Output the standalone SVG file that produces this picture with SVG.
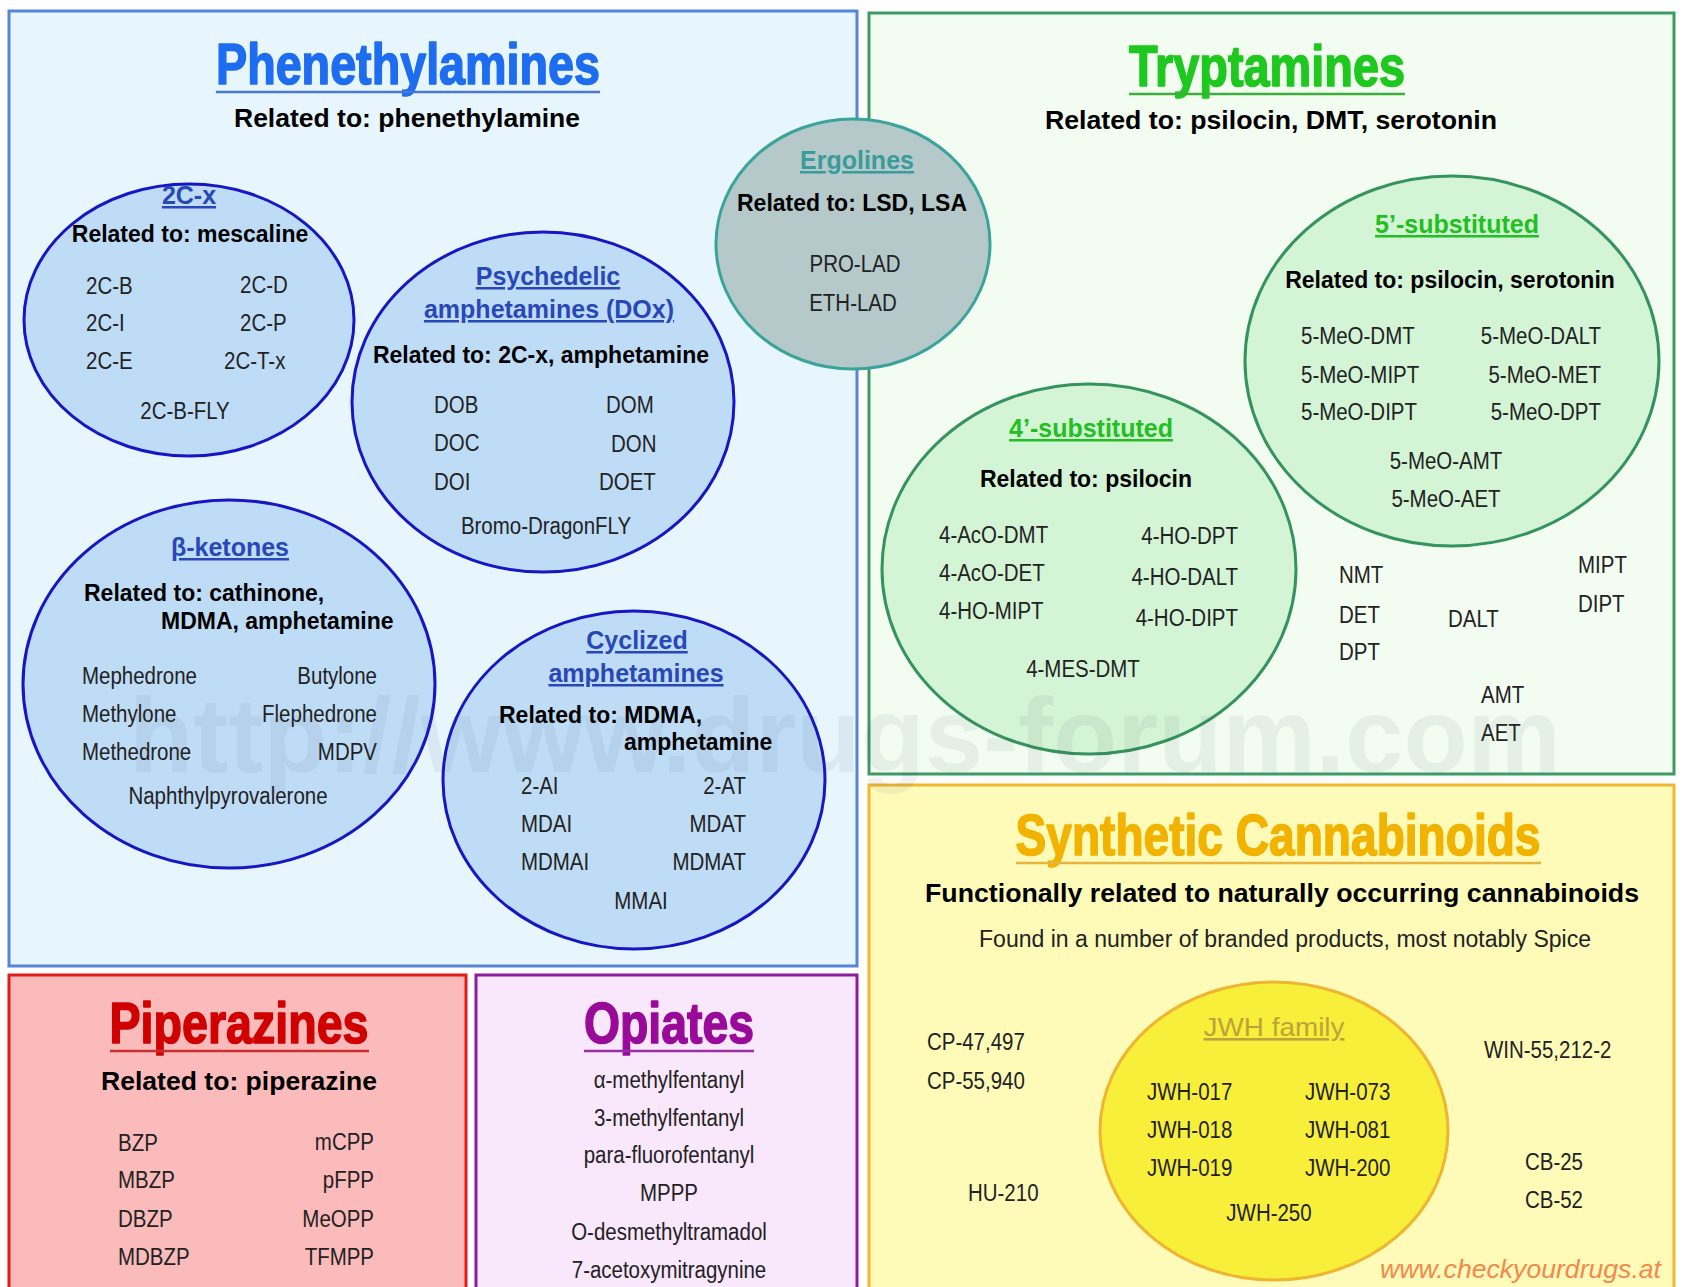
<svg xmlns="http://www.w3.org/2000/svg" width="1686" height="1287" viewBox="0 0 1686 1287">
<style>
text{font-family:'Liberation Sans',Arial,sans-serif}
.it{font-size:23px;fill:#222}
.m{text-anchor:middle}
.e{text-anchor:end}
.rel{font-size:23px;font-weight:bold;fill:#000}
.rel2{font-size:26.5px;font-weight:bold;fill:#000;text-anchor:middle}
.ct{font-size:25px;font-weight:bold;text-decoration:underline;text-anchor:middle}
.big{font-size:57px;font-weight:bold;text-anchor:middle;stroke-width:1.6;stroke-linejoin:round}
.pc{fill:#bfdcf7;stroke:#1616c4;stroke-width:3}
.tc{fill:#d4f4d6;stroke:#35935f;stroke-width:3}
.ul{stroke-width:2.5}
</style>
<rect width="1686" height="1287" fill="#fff"/>

<g id="phenethylamines">
<rect x="9" y="11" width="848" height="955" fill="#e7f5fd" stroke="#5585d8" stroke-width="3"/>
<text class="big" x="408" y="84" fill="#1e6cf0" stroke="#1e6cf0" textLength="384" lengthAdjust="spacingAndGlyphs">Phenethylamines</text>
<line class="ul" x1="216" y1="92" x2="600" y2="92" stroke="#4a78d0"/>
<text class="rel2" x="407" y="127" textLength="346" lengthAdjust="spacingAndGlyphs">Related to: phenethylamine</text>
</g>

<g id="tryptamines">
<rect x="869" y="13" width="805" height="761" fill="#f2fcf1" stroke="#3c9a62" stroke-width="3"/>
<text class="big" x="1267" y="86" fill="#1ec81e" stroke="#1ec81e" textLength="276" lengthAdjust="spacingAndGlyphs">Tryptamines</text>
<line class="ul" x1="1129" y1="94" x2="1405" y2="94" stroke="#3cae3c"/>
<text class="rel2" x="1271" y="129" textLength="452" lengthAdjust="spacingAndGlyphs">Related to: psilocin, DMT, serotonin</text>
<text class="it" transform="matrix(.89 0 0 1 1339 583)">NMT</text>
<text class="it" transform="matrix(.89 0 0 1 1339 623)">DET</text>
<text class="it" transform="matrix(.89 0 0 1 1339 660)">DPT</text>
<text class="it" transform="matrix(.89 0 0 1 1448 627)">DALT</text>
<text class="it" transform="matrix(.89 0 0 1 1578 573)">MIPT</text>
<text class="it" transform="matrix(.89 0 0 1 1578 612)">DIPT</text>
<text class="it" transform="matrix(.89 0 0 1 1481 703)">AMT</text>
<text class="it" transform="matrix(.89 0 0 1 1481 741)">AET</text>
</g>

<g id="synthetic-cannabinoids">
<rect x="869" y="785" width="805" height="520" fill="#fefbb9" stroke="#f2b632" stroke-width="3"/>
<text class="big" x="1278" y="855" fill="#f2b200" stroke="#f2b200" textLength="525" lengthAdjust="spacingAndGlyphs">Synthetic Cannabinoids</text>
<line class="ul" x1="1016" y1="863" x2="1541" y2="863" stroke="#e8b440"/>
<text class="rel2" x="1282" y="902" textLength="714" lengthAdjust="spacingAndGlyphs">Functionally related to naturally occurring cannabinoids</text>
<text class="it m" x="1285" y="947" textLength="612" lengthAdjust="spacingAndGlyphs">Found in a number of branded products, most notably Spice</text>
<text class="it" transform="matrix(.89 0 0 1 927 1050)">CP-47,497</text>
<text class="it" transform="matrix(.89 0 0 1 927 1089)">CP-55,940</text>
<text class="it" transform="matrix(.89 0 0 1 968 1201)">HU-210</text>
<text class="it" transform="matrix(.89 0 0 1 1484 1058)">WIN-55,212-2</text>
<text class="it" transform="matrix(.89 0 0 1 1525 1170)">CB-25</text>
<text class="it" transform="matrix(.89 0 0 1 1525 1208)">CB-52</text>
</g>

<g id="piperazines">
<rect x="9" y="975" width="457" height="330" fill="#fcbbbb" stroke="#e31b1b" stroke-width="3"/>
<text class="big" x="239" y="1043" fill="#d00000" stroke="#d00000" textLength="259" lengthAdjust="spacingAndGlyphs">Piperazines</text>
<line class="ul" x1="110" y1="1051" x2="369" y2="1051" stroke="#c83030"/>
<text class="rel2" x="239" y="1090" textLength="276" lengthAdjust="spacingAndGlyphs">Related to: piperazine</text>
<text class="it" transform="matrix(.89 0 0 1 118 1151)">BZP</text>
<text class="it" transform="matrix(.89 0 0 1 118 1188)">MBZP</text>
<text class="it" transform="matrix(.89 0 0 1 118 1227)">DBZP</text>
<text class="it" transform="matrix(.89 0 0 1 118 1265)">MDBZP</text>
<text class="it e" transform="matrix(.89 0 0 1 374 1150)">mCPP</text>
<text class="it e" transform="matrix(.89 0 0 1 374 1188)">pFPP</text>
<text class="it e" transform="matrix(.89 0 0 1 374 1227)">MeOPP</text>
<text class="it e" transform="matrix(.89 0 0 1 374 1265)">TFMPP</text>
</g>

<g id="opiates">
<rect x="476" y="975" width="381" height="330" fill="#f9e7fc" stroke="#8e1c9c" stroke-width="3"/>
<text class="big" x="669" y="1043" fill="#9a0a9a" stroke="#9a0a9a" textLength="170" lengthAdjust="spacingAndGlyphs">Opiates</text>
<line class="ul" x1="584" y1="1051" x2="754" y2="1051" stroke="#9a30a0"/>
<text class="it m" transform="matrix(.89 0 0 1 669 1088)">α-methylfentanyl</text>
<text class="it m" transform="matrix(.89 0 0 1 669 1126)">3-methylfentanyl</text>
<text class="it m" transform="matrix(.89 0 0 1 669 1163)">para-fluorofentanyl</text>
<text class="it m" transform="matrix(.89 0 0 1 669 1201)">MPPP</text>
<text class="it m" transform="matrix(.89 0 0 1 669 1240)">O-desmethyltramadol</text>
<text class="it m" transform="matrix(.89 0 0 1 669 1278)">7-acetoxymitragynine</text>
</g>

<g id="c2cx">
<ellipse class="pc" cx="189" cy="320" rx="165" ry="136"/>
<text class="ct" x="189" y="204" fill="#2848b8">2C-x</text>
<text class="rel" x="190" y="242" text-anchor="middle">Related to: mescaline</text>
<text class="it" transform="matrix(.89 0 0 1 86 294)">2C-B</text>
<text class="it" transform="matrix(.89 0 0 1 240 293)">2C-D</text>
<text class="it" transform="matrix(.89 0 0 1 86 331)">2C-I</text>
<text class="it" transform="matrix(.89 0 0 1 240 331)">2C-P</text>
<text class="it" transform="matrix(.89 0 0 1 86 369)">2C-E</text>
<text class="it" transform="matrix(.89 0 0 1 224 369)">2C-T-x</text>
<text class="it m" transform="matrix(.89 0 0 1 185 419)">2C-B-FLY</text>
</g>

<g id="dox">
<ellipse class="pc" cx="543" cy="402" rx="191" ry="170"/>
<text class="ct" x="548" y="285" fill="#2848b8">Psychedelic</text>
<text class="ct" x="549" y="318" fill="#2848b8">amphetamines (DOx)</text>
<text class="rel" x="541" y="363" text-anchor="middle">Related to: 2C-x, amphetamine</text>
<text class="it" transform="matrix(.89 0 0 1 434 413)">DOB</text>
<text class="it" transform="matrix(.89 0 0 1 606 413)">DOM</text>
<text class="it" transform="matrix(.89 0 0 1 434 451)">DOC</text>
<text class="it" transform="matrix(.89 0 0 1 611 452)">DON</text>
<text class="it" transform="matrix(.89 0 0 1 434 490)">DOI</text>
<text class="it" transform="matrix(.89 0 0 1 599 490)">DOET</text>
<text class="it m" transform="matrix(.89 0 0 1 546 534)">Bromo-DragonFLY</text>
</g>

<g id="beta-ketones">
<ellipse class="pc" cx="229" cy="684" rx="206" ry="184"/>
<text class="ct" x="230" y="556" fill="#2848b8">β-ketones</text>
<text class="rel" x="84" y="601">Related to: cathinone,</text>
<text class="rel" x="161" y="629">MDMA, amphetamine</text>
<text class="it" transform="matrix(.89 0 0 1 82 684)">Mephedrone</text>
<text class="it" transform="matrix(.89 0 0 1 82 722)">Methylone</text>
<text class="it" transform="matrix(.89 0 0 1 82 760)">Methedrone</text>
<text class="it e" transform="matrix(.89 0 0 1 377 684)">Butylone</text>
<text class="it e" transform="matrix(.89 0 0 1 377 722)">Flephedrone</text>
<text class="it e" transform="matrix(.89 0 0 1 377 760)">MDPV</text>
<text class="it m" transform="matrix(.89 0 0 1 228 804)">Naphthylpyrovalerone</text>
</g>

<g id="cyclized">
<ellipse class="pc" cx="634" cy="780" rx="191" ry="169"/>
<text class="ct" x="637" y="649" fill="#2848b8">Cyclized</text>
<text class="ct" x="636" y="682" fill="#2848b8">amphetamines</text>
<text class="rel" x="499" y="723">Related to: MDMA,</text>
<text class="rel" x="624" y="750">amphetamine</text>
<text class="it" transform="matrix(.89 0 0 1 521 794)">2-AI</text>
<text class="it" transform="matrix(.89 0 0 1 521 832)">MDAI</text>
<text class="it" transform="matrix(.89 0 0 1 521 870)">MDMAI</text>
<text class="it e" transform="matrix(.89 0 0 1 746 794)">2-AT</text>
<text class="it e" transform="matrix(.89 0 0 1 746 832)">MDAT</text>
<text class="it e" transform="matrix(.89 0 0 1 746 870)">MDMAT</text>
<text class="it m" transform="matrix(.89 0 0 1 641 909)">MMAI</text>
</g>

<g id="five-substituted">
<ellipse class="tc" cx="1452" cy="361" rx="207" ry="185"/>
<text class="ct" x="1457" y="233" fill="#20c020">5’-substituted</text>
<text class="rel" x="1450" y="288" text-anchor="middle">Related to: psilocin, serotonin</text>
<text class="it" transform="matrix(.89 0 0 1 1301 344)">5-MeO-DMT</text>
<text class="it" transform="matrix(.89 0 0 1 1301 383)">5-MeO-MIPT</text>
<text class="it" transform="matrix(.89 0 0 1 1301 420)">5-MeO-DIPT</text>
<text class="it e" transform="matrix(.89 0 0 1 1601 344)">5-MeO-DALT</text>
<text class="it e" transform="matrix(.89 0 0 1 1601 383)">5-MeO-MET</text>
<text class="it e" transform="matrix(.89 0 0 1 1601 420)">5-MeO-DPT</text>
<text class="it m" transform="matrix(.89 0 0 1 1446 469)">5-MeO-AMT</text>
<text class="it m" transform="matrix(.89 0 0 1 1446 507)">5-MeO-AET</text>
</g>

<g id="four-substituted">
<ellipse class="tc" cx="1089" cy="569" rx="207" ry="185"/>
<text class="ct" x="1091" y="437" fill="#20c020">4’-substituted</text>
<text class="rel" x="1086" y="487" text-anchor="middle">Related to: psilocin</text>
<text class="it" transform="matrix(.89 0 0 1 939 543)">4-AcO-DMT</text>
<text class="it" transform="matrix(.89 0 0 1 939 581)">4-AcO-DET</text>
<text class="it" transform="matrix(.89 0 0 1 939 619)">4-HO-MIPT</text>
<text class="it e" transform="matrix(.89 0 0 1 1238 544)">4-HO-DPT</text>
<text class="it e" transform="matrix(.89 0 0 1 1238 585)">4-HO-DALT</text>
<text class="it e" transform="matrix(.89 0 0 1 1238 626)">4-HO-DIPT</text>
<text class="it m" transform="matrix(.89 0 0 1 1083 677)">4-MES-DMT</text>
</g>

<g id="jwh-family">
<ellipse cx="1274" cy="1131" rx="174" ry="149" fill="#f8ef3a" stroke="#f0b530" stroke-width="3"/>
<text x="1274" y="1036" font-size="26" fill="#bea23c" text-anchor="middle" text-decoration="underline" textLength="141" lengthAdjust="spacingAndGlyphs">JWH family</text>
<text class="it" transform="matrix(.89 0 0 1 1147 1100)">JWH-017</text>
<text class="it" transform="matrix(.89 0 0 1 1147 1138)">JWH-018</text>
<text class="it" transform="matrix(.89 0 0 1 1147 1176)">JWH-019</text>
<text class="it" transform="matrix(.89 0 0 1 1305 1100)">JWH-073</text>
<text class="it" transform="matrix(.89 0 0 1 1305 1138)">JWH-081</text>
<text class="it" transform="matrix(.89 0 0 1 1305 1176)">JWH-200</text>
<text class="it m" transform="matrix(.89 0 0 1 1269 1221)">JWH-250</text>
</g>

<g id="ergolines">
<ellipse cx="853" cy="244" rx="137" ry="125" fill="#b5c9cb" stroke="#3aa39a" stroke-width="3"/>
<text class="ct" x="857" y="169" fill="#3a9c9a">Ergolines</text>
<text class="rel" x="852" y="211" text-anchor="middle">Related to: LSD, LSA</text>
<text class="it m" transform="matrix(.89 0 0 1 855 272)">PRO-LAD</text>
<text class="it m" transform="matrix(.89 0 0 1 853 311)">ETH-LAD</text>
</g>

<g id="connectors"/>

<text x="129" y="772" font-size="105" font-weight="bold" fill="#334455" fill-opacity="0.07" textLength="1432" lengthAdjust="spacingAndGlyphs">http://www.drugs-forum.com</text>
<text x="1380" y="1278" font-size="26.5" font-style="italic" fill="#f5884a" textLength="281" lengthAdjust="spacingAndGlyphs">www.checkyourdrugs.at</text>
</svg>
